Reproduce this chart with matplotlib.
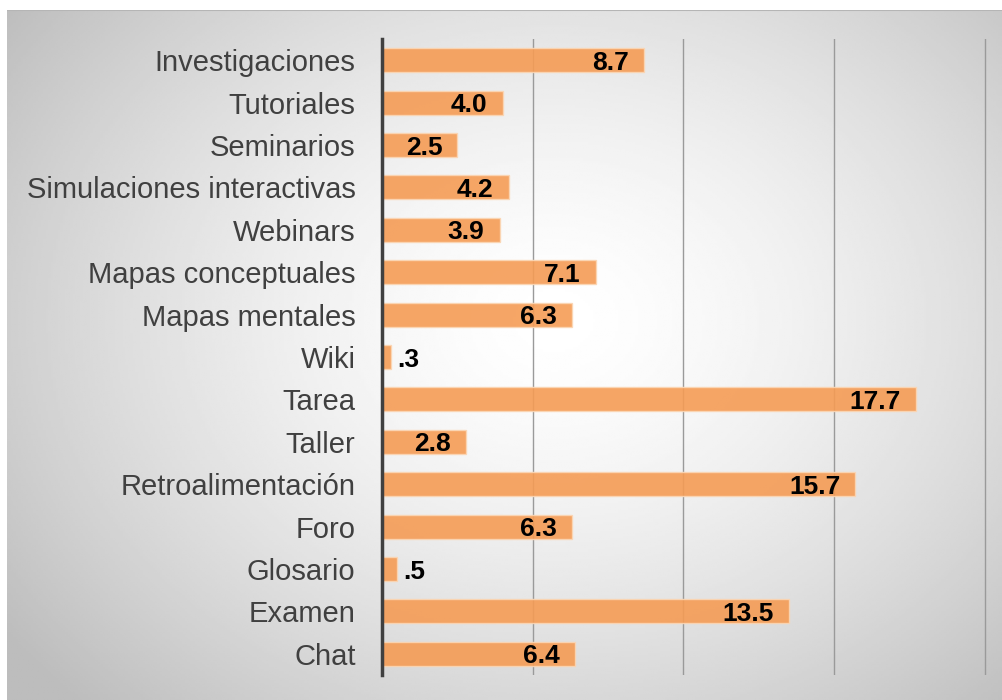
import numpy as np
import matplotlib.pyplot as plt

categorias = ['Investigaciones', 'Tutoriales', 'Seminarios', 'Simulaciones interactivas',
              'Webinars', 'Mapas conceptuales', 'Mapas mentales', 'Wiki', 'Tarea', 'Taller',
              'Retroalimentación', 'Foro', 'Glosario', 'Examen', 'Chat']
valores = [8.7, 4.0, 2.5, 4.2, 3.9, 7.1, 6.3, 0.3, 17.7, 2.8, 15.7, 6.3, 0.5, 13.5, 6.4]
ticks_x = [0, 5, 10, 15, 20]

plt.rcParams['font.family'] = ['Liberation Sans', 'DejaVu Sans']

fig = plt.figure(figsize=(10.02, 7), dpi=100)

# fondo con degradado radial
bg = fig.add_axes([7 / 1002, 0, 995 / 1002, 690 / 700])
yy, xx = np.mgrid[0:1:300j, 0:1:400j]
d = np.sqrt(((xx - 0.55) / 0.7) ** 2 + ((yy - 0.45) / 0.8) ** 2)
shade = np.clip(1.0 - 0.27 * d ** 1.5, 0.74, 1.0)
bg.imshow(shade, cmap='gray', vmin=0, vmax=1, aspect='auto', extent=[0, 1, 0, 1])
bg.axhline(1, color='#b5b5b5', linewidth=1.5)
bg.set_axis_off()

ax = fig.add_axes([382 / 1002, 25 / 700, 606 / 1002, 636 / 700])
ax.patch.set_alpha(0)

y = np.arange(len(categorias))
ax.barh(y, valores, height=0.57, color='#f59c55', alpha=0.9,
        edgecolor='#fbd6b4', linewidth=1, zorder=3)

for yi, v in zip(y, valores):
    txt = f'{v:.1f}'.lstrip('0')
    if v < 1:
        ax.text(v + 0.2, yi + 0.06, txt, ha='left', va='center', fontsize=19,
                fontweight='bold', color='black', zorder=4)
    else:
        ax.text(v - 0.5, yi + 0.06, txt, ha='right', va='center', fontsize=19,
                fontweight='bold', color='black', zorder=4)

ax.set_xlim(0, 20.1)
ax.set_ylim(len(categorias) - 0.5, -0.5)
ax.set_yticks(y)
ax.set_yticklabels(categorias, fontsize=21, color='#404040')
ax.set_xticks(ticks_x)
ax.tick_params(axis='x', length=0, labelbottom=False)
ax.tick_params(axis='y', length=0, pad=19)
ax.grid(axis='x', color='#9a9a9a', linewidth=1, zorder=1)
for s in ['top', 'right', 'bottom']:
    ax.spines[s].set_visible(False)
ax.spines['left'].set_color('#404040')
ax.spines['left'].set_linewidth(2.5)
ax.spines['left'].set_zorder(5)

fig.savefig('out.png', dpi=100)
